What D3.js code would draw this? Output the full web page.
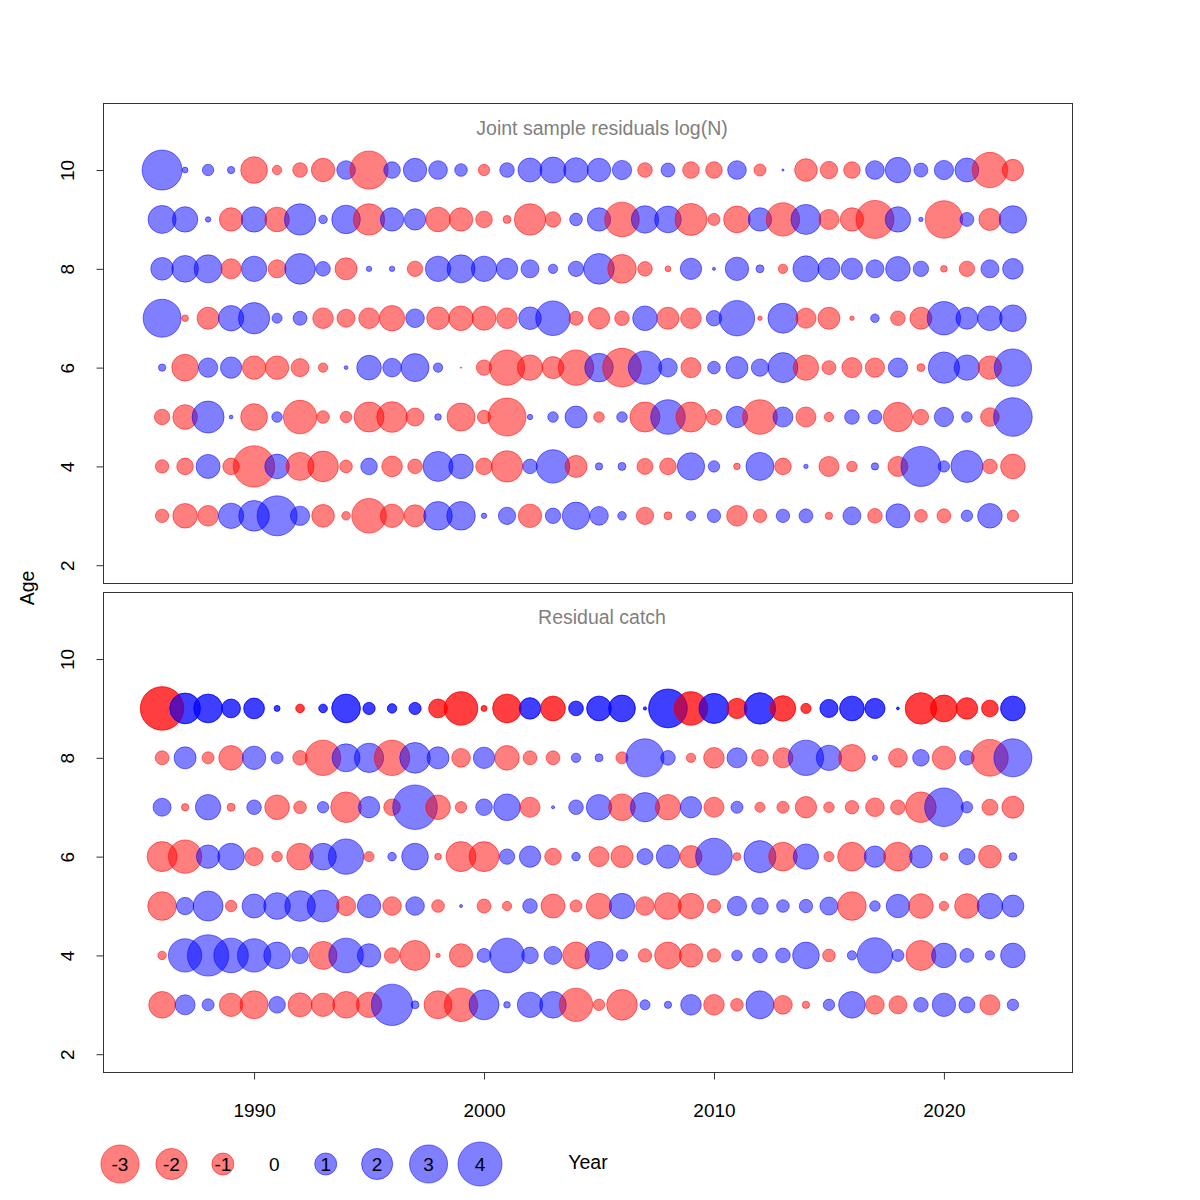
<!DOCTYPE html>
<html><head><meta charset="utf-8">
<script src="https://cdn.jsdelivr.net/npm/d3@7"></script>
<style>body{margin:0;background:#fff}text{font-family:"Liberation Sans",Arial,sans-serif}</style>
</head><body>
<svg id="c" width="1200" height="1200"></svg>
<script>
const years = d3.range(1986, 2024);
const ageTicks = [2, 4, 6, 8, 10];
const yearTicks = [1990, 2000, 2010, 2020];
const legendValues = [-3, -2, -1, 0, 1, 2, 3, 4];

// Joint sample residuals log(N), ages 3..10 (rows by age, 1986..2023)
const joint3 = [-0.37,-1.25,-0.88,1.33,1.94,3.3,0.77,-1.06,-0.15,-2.47,-1.13,-1.0,1.69,1.69,0.06,0.62,-1.13,0.49,1.55,0.72,0.15,-0.62,-0.13,0.18,0.37,-0.88,-0.37,0.37,0.4,-0.11,0.67,-0.44,1.19,-0.33,-0.4,0.27,1.25,-0.27];
const joint4 = [-0.37,-0.57,1.19,-0.57,-3.53,1.25,-1.62,-1.94,-0.33,0.57,-0.88,-0.44,1.86,1.25,-0.57,-2.03,0.44,2.3,-1.0,0.11,0.13,-0.53,-0.57,1.55,0.27,-0.09,1.62,-0.57,0.04,-0.83,-0.23,0.11,-0.83,3.3,0.27,2.12,-0.44,-1.25];
const joint5 = [-0.49,-1.25,2.12,0.03,-1.47,0.23,-2.3,-0.33,-0.27,-1.86,-1.94,-0.67,0.09,-1.62,-0.37,-2.98,0.06,0.23,1.0,-0.23,0.23,-1.86,2.47,-1.86,-0.49,0.94,-2.47,0.83,-0.83,-0.18,0.44,0.4,-1.78,-0.49,0.77,0.23,-0.72,3.08];
const joint6 = [0.11,-1.47,0.77,0.94,-1.13,-1.13,-0.67,-0.18,0.03,1.25,0.72,1.62,0.18,-0.004,-0.49,-2.58,-1.33,-1.0,-2.58,1.69,-3.08,2.3,0.72,-0.83,0.33,1.0,0.62,1.86,-1.33,-0.4,-0.83,-0.77,0.77,-0.13,2.03,1.33,-1.13,2.89];
const joint7 = [2.98,-0.09,-1.0,1.33,2.03,0.21,0.4,-0.88,-0.67,-0.88,-1.33,0.72,-1.06,-1.25,-1.19,-0.88,1.06,2.47,-0.4,-0.94,-0.44,1.25,-1.0,-0.88,0.49,2.58,-0.04,1.86,-0.83,-1.0,-0.04,0.15,-0.44,-1.0,2.3,1.0,1.25,1.47];
const joint8 = [1.06,1.47,1.62,-0.83,1.33,-0.67,1.94,0.44,-1.0,0.06,0.06,-0.49,1.33,1.62,1.33,0.94,0.67,0.18,0.49,1.94,-1.69,-0.44,-0.07,0.94,0.02,1.13,0.13,-0.18,1.4,1.0,0.94,0.67,1.25,0.49,-0.09,-0.49,0.67,0.88];
const joint9 = [1.62,1.33,0.06,-1.13,1.33,-1.25,2.03,0.15,1.69,-2.03,1.13,0.94,-1.25,-1.13,-0.57,-0.13,-2.03,-0.49,0.33,1.13,-2.47,1.55,1.47,-2.12,-0.3,-1.47,1.13,-2.3,1.86,-0.83,-1.13,-2.98,1.33,0.04,-2.89,0.4,-1.0,1.55];
const joint10 = [3.3,0.07,0.27,0.11,-1.47,-0.18,-0.44,-1.13,0.72,-3.0,0.57,1.13,0.72,0.33,-0.27,0.44,1.19,1.4,1.25,1.13,0.77,-0.44,0.4,-0.57,-0.57,0.72,-0.3,0.01,-1.06,-0.62,-0.57,0.72,1.33,0.4,0.77,1.19,-2.58,-0.94];

// Residual catch, ages 3..9
const catch3 = [-1.47,0.83,0.3,-1.13,-1.62,0.57,-1.19,-1.13,-1.47,-1.33,3.53,0.13,-1.62,-2.3,1.86,0.09,1.33,1.47,-2.3,-0.27,-1.94,0.21,0.11,0.88,-0.88,-0.33,1.62,-0.72,-0.11,0.27,1.47,-0.72,-0.67,0.44,1.13,0.53,-0.83,0.27];
const catch4 = [-0.15,2.3,3.53,2.47,2.3,1.47,0.57,-1.62,2.47,1.13,-0.49,-1.86,-0.04,-1.13,0.4,2.47,0.57,0.67,-1.47,1.62,0.27,-0.37,-1.47,-1.13,-0.37,0.23,0.44,0.44,1.47,-0.33,0.18,2.58,0.3,-1.86,1.25,0.4,0.18,1.25];
const catch5 = [-1.69,0.62,1.86,-0.27,1.19,1.47,1.94,2.12,-0.77,1.13,-0.72,0.72,-0.33,0.02,-0.4,-0.18,0.44,-1.19,-0.3,-1.33,1.33,-0.72,-1.47,-1.33,-0.37,0.77,0.57,0.33,0.37,0.67,-1.69,0.23,1.13,-1.25,-0.18,-1.25,1.33,1.0];
const catch6 = [-1.86,-2.3,1.13,1.47,-0.67,-0.23,-1.47,1.47,2.58,-0.21,0.15,1.47,-0.09,-1.86,-1.86,0.49,0.94,-0.57,0.15,-0.83,-1.0,0.53,1.13,-1.0,2.78,-0.13,2.12,-1.69,1.33,-0.21,-1.69,0.94,-1.69,1.06,-0.13,0.53,-1.06,0.13];
const catch7 = [0.67,-0.11,1.33,-0.13,0.44,-1.25,-0.33,0.27,-1.94,0.94,-0.57,4.1,-1.25,-0.27,0.57,1.47,-0.83,0.02,0.44,1.33,-1.47,1.78,-1.33,0.94,-0.83,0.3,-0.21,-0.3,-0.94,-0.23,-0.37,-0.72,-0.44,-1.94,3.08,0.27,-0.53,-1.0];
const catch8 = [-0.4,1.0,-0.3,-1.25,1.13,0.3,-0.44,-2.58,1.62,1.78,-2.58,1.94,1.0,-0.72,0.94,-1.25,-0.4,-0.4,0.18,0.13,-0.3,2.98,0.44,-0.18,-0.88,0.83,-0.57,-0.83,2.58,1.33,-1.47,0.06,-0.72,0.57,-1.13,0.44,-2.78,2.98];
const catch9 = [-3.88,1.94,1.69,0.72,0.88,0.07,-0.15,0.15,1.69,0.3,0.18,0.3,-0.72,-2.3,-0.07,-1.69,0.94,-1.25,0.44,1.25,1.47,0.02,3.08,-2.3,1.86,-0.83,2.03,-1.33,-0.21,0.67,1.25,0.83,0.015,-2.03,-1.47,-0.94,-0.57,1.25];
// ages whose catch residual is drawn twice (appears darker)
const catchDoubledAges = [9];

const jointRows = {3:joint3,4:joint4,5:joint5,6:joint6,7:joint7,8:joint8,9:joint9,10:joint10};
const catchRows = {3:catch3,4:catch4,5:catch5,6:catch6,7:catch7,8:catch8,9:catch9};

const FONT = '"Liberation Sans",Arial,sans-serif';
const svg = d3.select("#c");
const L = 103, R = 1072;
const x = d3.scaleLinear().domain([1983.43, 2025.57]).range([L, R]);
const rScale = d3.scaleSqrt().domain([0, 1]).range([0, 11]).clamp(false);
const RED = "rgba(255,0,0,0.5)", BLUE = "rgba(0,0,255,0.5)";

function panel(top, bottom, title, rows, doubled, showX) {
  const y = d3.scaleLinear().domain([1.64, 11.357]).range([bottom, top]);
  const g = svg.append("g");
  const pts = [];
  Object.keys(rows).forEach(a => {
    const age = +a;
    const reps = doubled.includes(age) ? 2 : 1;
    for (let k = 0; k < reps; k++)
      rows[a].forEach((v, i) => pts.push({year: years[i], age, v}));
  });
  g.selectAll("circle.b").data(pts).join("circle")
    .attr("cx", d => x(d.year)).attr("cy", d => y(d.age))
    .attr("r", d => rScale(Math.abs(d.v)))
    .attr("fill", d => d.v < 0 ? RED : BLUE)
    .attr("stroke", d => d.v < 0 ? RED : BLUE).attr("stroke-width", 1);
  g.append("rect").attr("x", L + 0.5).attr("y", top + 0.5).attr("width", R - L).attr("height", bottom - top)
    .attr("fill", "none").attr("stroke", "#333").attr("stroke-width", 1);
  g.append("text").attr("x", 602).attr("y", top + 32).attr("text-anchor", "middle")
    .attr("font-size", 19.5).attr("fill", "#808080").text(title);
  const ya = g.append("g").attr("transform", `translate(${L + 0.5},0)`)
    .call(d3.axisLeft(y).tickValues(ageTicks).tickSize(7).tickSizeOuter(0).tickPadding(0));
  ya.select(".domain").attr("stroke", "#333").attr("d", `M0,${y(2)}V${y(10)}`);
  ya.selectAll(".tick line").attr("stroke", "#333");
  ya.selectAll(".tick text").attr("font-size", 19).attr("fill", "#000")
    .attr("transform", "translate(-36,0) rotate(-90)").attr("x", 0).attr("dy", "0.35em")
    .attr("text-anchor", "middle").attr("font-family", FONT);
  if (showX) {
    const xa = g.append("g").attr("transform", `translate(0,${bottom + 0.5})`)
      .call(d3.axisBottom(x).tickValues(yearTicks).tickFormat(d3.format("d")).tickSize(7).tickSizeOuter(0).tickPadding(24));
    xa.select(".domain").attr("d", `M${x(1990)},0H${x(2020)}`).attr("stroke", "#333");
    xa.selectAll(".tick line").attr("stroke", "#333");
    xa.selectAll(".tick text").attr("font-size", 19).attr("fill", "#000").attr("font-family", FONT);
  }
}

panel(103, 583, "Joint sample residuals log(N)", jointRows, [], false);
panel(592, 1072, "Residual catch", catchRows, catchDoubledAges, true);

svg.append("text").attr("transform", "translate(34,588) rotate(-90)").attr("text-anchor", "middle")
  .attr("font-size", 19.5).text("Age");

// legend
const lx = d3.scaleLinear().domain([-3, 4]).range([120, 480]);
const lg = svg.append("g");
lg.selectAll("circle").data(legendValues.filter(v => v !== 0)).join("circle")
  .attr("cx", d => lx(d)).attr("cy", 1164).attr("r", d => rScale(Math.abs(d)))
  .attr("fill", d => d < 0 ? RED : BLUE).attr("stroke", d => d < 0 ? RED : BLUE);
lg.selectAll("text").data(legendValues).join("text")
  .attr("x", d => lx(d)).attr("y", 1164).attr("dy", "0.36em").attr("text-anchor", "middle")
  .attr("font-size", 19).attr("fill", "#000").text(d => d);
svg.append("text").attr("x", 588).attr("y", 1169).attr("text-anchor", "middle").attr("font-size", 19.5).text("Year");
</script>
</body></html>
